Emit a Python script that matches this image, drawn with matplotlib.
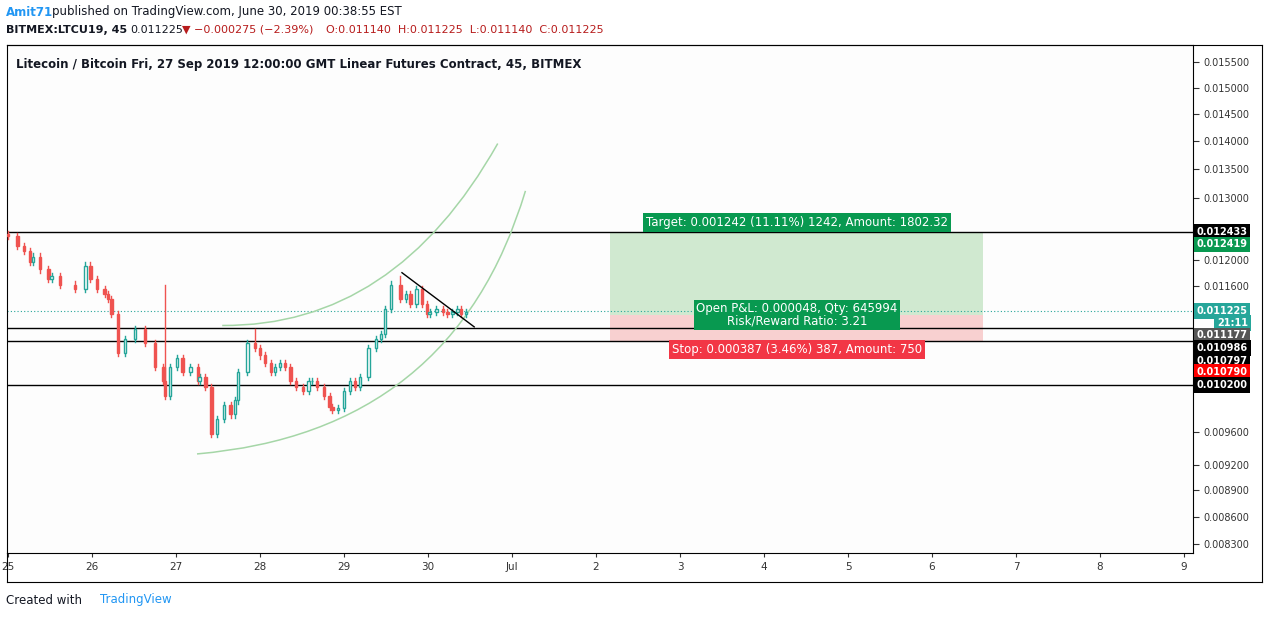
import numpy as np
import matplotlib
matplotlib.use('Agg')
from matplotlib import pyplot as plt
from matplotlib.patches import Rectangle, PathPatch
from matplotlib.path import Path
import matplotlib.ticker as mticker

# begin DATA
# time in days since Jun 25 00:00, close prices
times = [0.00, 0.11, 0.19, 0.26, 0.30, 0.38, 0.48, 0.52, 0.62, 0.80, 0.92, 0.98,
         1.06, 1.15, 1.19, 1.23, 1.31, 1.39, 1.51, 1.63, 1.75, 1.85, 1.87, 1.93,
         2.01, 2.08, 2.17, 2.26, 2.28, 2.35, 2.42, 2.49, 2.57, 2.65, 2.70, 2.74,
         2.85, 2.94, 3.00, 3.06, 3.13, 3.18, 3.24, 3.30, 3.36, 3.43, 3.51, 3.58,
         3.62, 3.68, 3.76, 3.83, 3.86, 3.93, 4.00, 4.07, 4.13, 4.19, 4.29, 4.38,
         4.44, 4.49, 4.56, 4.67, 4.74, 4.79, 4.86, 4.93, 4.99, 5.02, 5.10, 5.18,
         5.23, 5.29, 5.35, 5.39, 5.45]
closes = [0.01238, 0.01222, 0.01214, 0.01196, 0.01205, 0.01185, 0.01170, 0.01175,
          0.01162, 0.01155, 0.01191, 0.01170, 0.01155, 0.01148, 0.01140, 0.01119,
          0.01063, 0.01083, 0.01097, 0.01077, 0.01044, 0.01025, 0.01006, 0.01044,
          0.01057, 0.01037, 0.01044, 0.01025, 0.01031, 0.01018, 0.00958, 0.00976,
          0.00994, 0.00982, 0.01000, 0.01037, 0.01077, 0.01070, 0.01060, 0.01050,
          0.01037, 0.01044, 0.01050, 0.01044, 0.01025, 0.01018, 0.01012, 0.01025,
          0.01025, 0.01018, 0.01006, 0.00991, 0.00988, 0.00990, 0.01012, 0.01025,
          0.01018, 0.01031, 0.01070, 0.01083, 0.01090, 0.01126, 0.01162, 0.01140,
          0.01148, 0.01133, 0.01155, 0.01133, 0.01119, 0.01122, 0.01126, 0.01122,
          0.01119, 0.01122, 0.01126, 0.01119, 0.01122]
spike_highs = {1.87: 0.01162, 2.94: 0.01097, 4.67: 0.01175}
spike_lows = {2.30: 0.00944, 2.49: 0.00958}

h_levels = [0.012433, 0.010986, 0.010797, 0.010200]
last_price = 0.011225
entry, target, stop = 0.011177, 0.012419, 0.010790
pos_start, pos_end = 7.17, 11.61

axis_ticks = [0.0155, 0.0150, 0.0145, 0.0140, 0.0135, 0.0130, 0.0120, 0.0116,
              0.0096, 0.0092, 0.0089, 0.0086, 0.0083]
date_labels = ['25', '26', '27', '28', '29', '30', 'Jul', '2', '3', '4', '5',
               '6', '7', '8', '9']
# arcs: (start, control, end) in (day, price)
arc1 = [(2.55, 0.01102), (4.6, 0.01100), (5.83, 0.01395)]
arc2 = [(2.25, 0.00933), (5.3, 0.00960), (6.16, 0.01312)]
tri_line = [(4.69, 0.01180), (5.55, 0.01100)]
# end DATA

UP = '#26a69a'
DOWN = '#ef5350'

fig = plt.figure(figsize=(12.68, 6.18), dpi=100)
fig.patch.set_facecolor('white')
ax = fig.add_axes([7 / 1268, 1 - 553 / 618, 1186 / 1268, 508 / 618])
ax.set_yscale('log')
ax.set_xlim(-0.012, 14.107)
ax.set_ylim(0.008206, 0.01585)
ax.set_facecolor('#fdfdfd')

# candles
w = 0.03
prev = closes[0] * 1.002
for t, c in zip(times, closes):
    o = prev
    col = UP if c >= o else DOWN
    hi = max(o, c) * 1.004
    lo = min(o, c) * 0.996
    hi = max(hi, spike_highs.get(t, hi))
    lo = min(lo, spike_lows.get(t, lo))
    ax.plot([t, t], [lo, hi], color=col, lw=1, zorder=3)
    bot, top = min(o, c), max(o, c)
    if col == UP:
        ax.add_patch(Rectangle((t - w / 2, bot), w, max(top - bot, 1e-6),
                               facecolor='white', edgecolor=col, lw=1, zorder=4))
    else:
        ax.add_patch(Rectangle((t - w / 2, bot), w, max(top - bot, 1e-6),
                               facecolor=col, edgecolor=col, lw=1, zorder=4))
    prev = c

for lv in h_levels:
    ax.axhline(lv, color='black', lw=1, zorder=2)
ax.axhline(last_price, color=UP, lw=0.8, ls=(0, (1, 2)), zorder=2)

for arc in (arc1, arc2):
    ax.add_patch(PathPatch(Path(arc, [Path.MOVETO, Path.CURVE3, Path.CURVE3]),
                           fill=False, edgecolor='#a5d6a7', lw=1.1, zorder=2))
ax.plot([p[0] for p in tri_line], [p[1] for p in tri_line], color='black', lw=1, zorder=5)

# long position tool
ax.add_patch(Rectangle((pos_start, entry), pos_end - pos_start, target - entry,
                       facecolor='#c8e6c9', alpha=0.85, edgecolor='none', zorder=1))
ax.add_patch(Rectangle((pos_start, stop), pos_end - pos_start, entry - stop,
                       facecolor='#f8c9c9', alpha=0.85, edgecolor='none', zorder=1))
mid = (pos_start + pos_end) / 2
ax.text(mid, 0.01260, 'Target: 0.001242 (11.11%) 1242, Amount: 1802.32', color='white',
        fontsize=8.5, ha='center', va='center', zorder=6,
        bbox=dict(boxstyle='square,pad=0.25', fc='#089950', ec='none'))
ax.text(mid, 0.01117, 'Open P&L: 0.000048, Qty: 645994\nRisk/Reward Ratio: 3.21', color='white',
        fontsize=8.5, ha='center', va='center', zorder=6, linespacing=0.95,
        bbox=dict(boxstyle='square,pad=0.2', fc='#089950', ec='none'))
ax.text(mid, 0.01068, 'Stop: 0.000387 (3.46%) 387, Amount: 750', color='white',
        fontsize=8.5, ha='center', va='center', zorder=6,
        bbox=dict(boxstyle='square,pad=0.25', fc='#f23645', ec='none'))

# axes
ax.yaxis.tick_right()
ax.yaxis.set_major_locator(mticker.FixedLocator(axis_ticks))
ax.yaxis.set_minor_locator(mticker.NullLocator())
ax.yaxis.set_major_formatter(mticker.FuncFormatter(lambda v, p: '%.6f' % v))
ax.tick_params(axis='y', labelsize=7, length=4, colors='#333333')
ax.set_xticks(range(len(date_labels)))
ax.set_xticklabels(date_labels)
ax.tick_params(axis='x', labelsize=7.5, length=3, colors='#333333')
for s in ax.spines.values():
    s.set_color('black')
    s.set_linewidth(0.8)

tags = [(0.012433, '0.012433', 'black'), (0.012240, '0.012419', '#089950'),
        (0.011225, '0.011225', UP), (0.011050, '21:11', UP),
        (0.010878, '0.011177', '#555555'), (0.010700, '0.010986', 'black'),
        (0.010530, '0.010797', 'black'), (0.010370, '0.010790', '#ff0000'),
        (0.010200, '0.010200', 'black')]
for y, s, fc in tags:
    ha = 'right' if s == '21:11' else 'left'
    xpos = 1.0465 if s == '21:11' else 1.003
    ax.text(xpos, y, s, transform=ax.get_yaxis_transform(), fontsize=7, color='white',
            fontweight='bold', ha=ha, va='center', zorder=7,
            bbox=dict(boxstyle='square,pad=0.3', fc=fc, ec='none'))

fig.add_artist(plt.Line2D([1262 / 1268, 1262 / 1268], [1 - 45 / 618, 1 - 582 / 618],
                          color='black', lw=0.8))
fig.add_artist(plt.Line2D([7 / 1268, 1262 / 1268], [1 - 45 / 618, 1 - 45 / 618],
                          color='black', lw=0.8))
fig.add_artist(plt.Line2D([7 / 1268, 1262 / 1268], [1 - 582 / 618, 1 - 582 / 618],
                          color='black', lw=0.8))
fig.add_artist(plt.Line2D([7 / 1268, 7 / 1268], [1 - 553 / 618, 1 - 582 / 618],
                          color='black', lw=0.8))

ax.text(0.008, 0.975, 'Litecoin / Bitcoin Fri, 27 Sep 2019 12:00:00 GMT Linear Futures Contract, 45, BITMEX',
        transform=ax.transAxes, fontsize=8.5, fontweight='bold', va='top', color='#131722')

fig.text(6 / 1268, 1 - 12 / 618, 'Amit71', color='#2196f3', fontsize=8.5, fontweight='bold', va='center')
fig.text(52 / 1268, 1 - 12 / 618, 'published on TradingView.com, June 30, 2019 00:38:55 EST',
         color='#131722', fontsize=8.5, va='center')
fig.text(6 / 1268, 1 - 30 / 618, 'BITMEX:LTCU19, 45', color='#131722', fontsize=8,
         fontweight='bold', va='center')
fig.text(130 / 1268, 1 - 30 / 618, '0.011225', color='#131722', fontsize=8, va='center')
fig.text(182 / 1268, 1 - 30 / 618, '\u25bc \u22120.000275 (\u22122.39%)', color='#b71c1c',
         fontsize=8, va='center')
fig.text(326 / 1268, 1 - 30 / 618, 'O:0.011140  H:0.011225  L:0.011140  C:0.011225',
         color='#b71c1c', fontsize=8, va='center')
fig.text(6 / 1268, 1 - 600 / 618, 'Created with', color='#131722', fontsize=8.5, va='center')
fig.text(100 / 1268, 1 - 600 / 618, 'TradingView', color='#2196f3', fontsize=8.5, va='center')

fig.savefig('out.png', dpi=100)
